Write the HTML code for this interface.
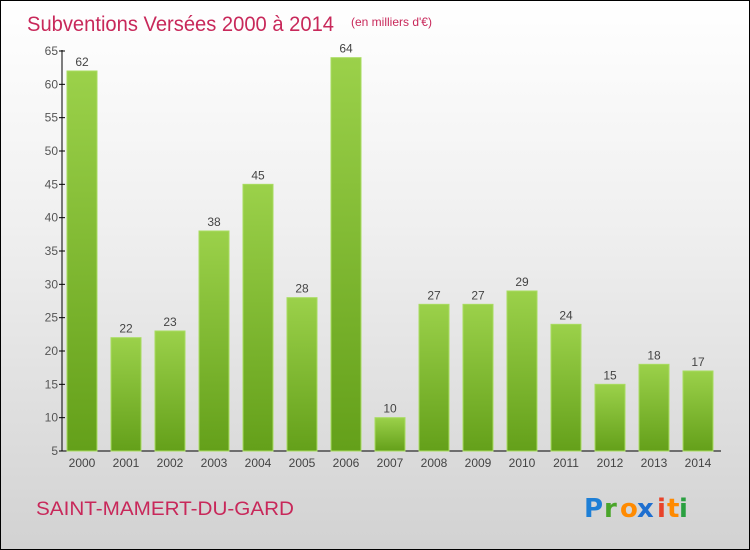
<!DOCTYPE html>
<html><head><meta charset="utf-8"><style>
body{margin:0;}
#c{position:relative;width:748px;height:548px;border:1px solid #000;background:linear-gradient(#ffffff 0%,#f0f0f0 40%,#d2d2d2 100%);overflow:hidden;font-family:"Liberation Sans","DejaVu Sans",sans-serif;}
</style></head><body>
<div id="c">
<svg width="748" height="548">
<defs><linearGradient id="g" x1="0" y1="0" x2="0" y2="1"><stop offset="0" stop-color="#9bd14a"/><stop offset="1" stop-color="#64a01a"/></linearGradient></defs>
<text x="26" y="30" font-size="21" fill="#c8285a" textLength="307" lengthAdjust="spacingAndGlyphs">Subventions Versées 2000 à 2014</text>
<text x="350" y="25" font-size="12" fill="#c8285a">(en milliers d'€)</text>
<g id="plot"></g>
<text x="35" y="514" font-size="19" fill="#c8285a" textLength="258" lengthAdjust="spacingAndGlyphs">SAINT-MAMERT-DU-GARD</text>
<g font-size="26" font-family="'DejaVu Sans',sans-serif" font-weight="bold">
<text x="583" y="516" fill="#1e7fd6">P</text><text x="603" y="516" fill="#4aa52a">r</text><text x="619" y="516" fill="#ff8a00">o</text><text x="636" y="516" fill="#1e6fd0">x</text><text x="656" y="516" fill="#e8432a">i</text><text x="666" y="516" fill="#ff8a00">t</text><text x="678" y="516" fill="#2aa040">i</text>
</g>
</svg>
</div>
<script>
const years=["2000","2001","2002","2003","2004","2005","2006","2007","2008","2009","2010","2011","2012","2013","2014"];
const values=[62,22,23,38,45,28,64,10,27,27,29,24,15,18,17];
const ticks=[5,10,15,20,25,30,35,40,45,50,55,60,65];
const NS="http://www.w3.org/2000/svg";
const g=document.getElementById('plot');
const y=v=>450-(v-5)*400/60;
const x=i=>81+i*44;
function mk(t,a){const e=document.createElementNS(NS,t);for(const k in a)e.setAttribute(k,a[k]);g.appendChild(e);return e;}
const ya=mk('line',{x1:61,y1:49,x2:61,y2:450,stroke:'#000'});


const xa=mk('line',{x1:61,y1:450,x2:720,y2:450,stroke:'#000'});


ticks.forEach(t=>{
 const l=mk('line',{x1:58,y1:y(t),x2:64,y2:y(t),stroke:'#000'});
 
 
 const tx=mk('text',{x:57,y:y(t)+4,'font-size':12,fill:'#555','text-anchor':'end'});
 tx.textContent=t;
 
 
});
values.forEach((v,i)=>{
 const r=mk('rect',{x:x(i)-15,y:y(v),width:30,height:450-y(v),fill:'url(#g)',stroke:'#a8dc60','stroke-width':1});
 
 
 const lb=mk('text',{x:x(i),y:y(v)-5,'font-size':12,fill:'#444','text-anchor':'middle'});
 lb.textContent=v;
 
 
 const xl=mk('text',{x:x(i),y:466,'font-size':12,fill:'#444','text-anchor':'middle'});
 xl.textContent=years[i];
 
 
});
</script>
</body></html>
